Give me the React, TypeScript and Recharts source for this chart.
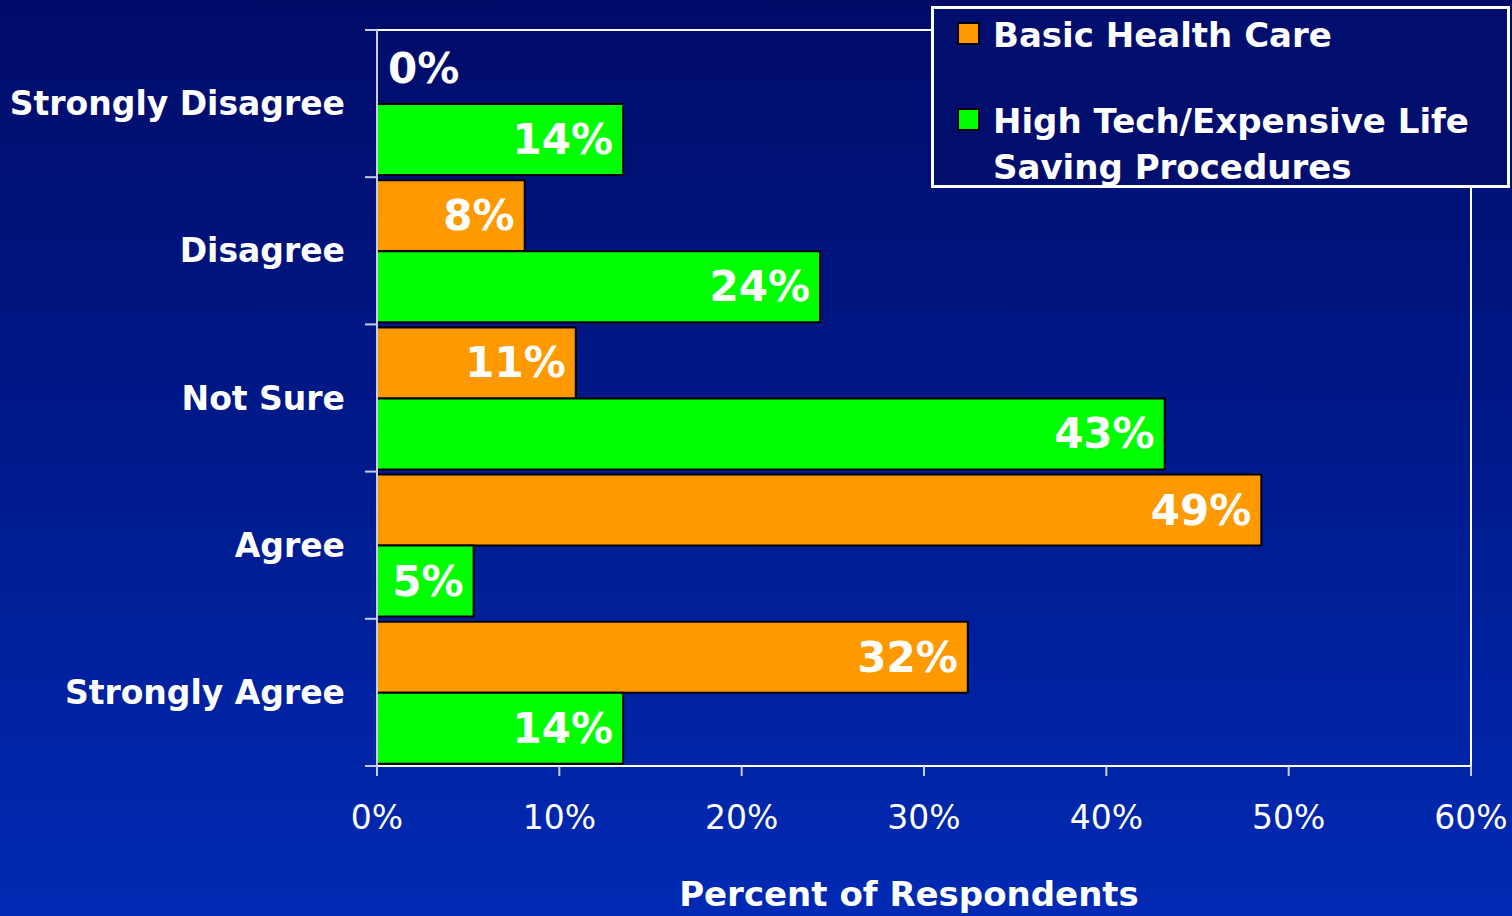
import React from 'react';
import {
  BarChart,
  Bar,
  Cell,
  XAxis,
  YAxis,
  Legend,
  LabelList,
  ReferenceArea,
} from 'recharts';

const categories = ['Strongly Disagree', 'Disagree', 'Not Sure', 'Agree', 'Strongly Agree'];
const basicCare = [0, 8.1, 10.9, 48.5, 32.4];
const highTech = [13.5, 24.3, 43.2, 5.3, 13.5];
const xTicks = [0, 10, 20, 30, 40, 50, 60];

const data = categories.map((c, i) => ({
  name: c,
  basic: basicCare[i],
  tech: highTech[i],
}));

const FONT = "Tahoma, Verdana, 'DejaVu Sans', sans-serif";
const W = 1512;
const H = 916;
const TOP = 30;
const BOTTOM_AXIS = 150;
const band = (H - TOP - BOTTOM_AXIS) / categories.length;

const BarLabel = (props: any) => {
  const { x, y, width, height, value } = props;
  const small = value === 0;
  return (
    <text
      x={small ? x + 11 : x + width - 10}
      y={y + height / 2}
      textAnchor={small ? 'start' : 'end'}
      dominantBaseline="central"
      fill="#fff"
      fontSize={42}
      fontWeight="bold"
      fontFamily={FONT}
    >
      {Math.round(value)}%
    </text>
  );
};

const CategoryTick = (props: any) => {
  const { x, y, payload, index } = props;
  return (
    <g>
      <line x1={x - 4} x2={x + 8} y1={y - band / 2} y2={y - band / 2} stroke="#c8cce0" strokeWidth={2} />
      {index === categories.length - 1 && (
        <line x1={x - 4} x2={x + 8} y1={y + band / 2} y2={y + band / 2} stroke="#c8cce0" strokeWidth={2} />
      )}
      <text
        x={x - 24}
        y={y}
        textAnchor="end"
        dominantBaseline="central"
        fill="#fff"
        fontSize={33}
        fontWeight="bold"
        fontFamily={FONT}
      >
        {payload.value}
      </text>
    </g>
  );
};

const LegendBox = (props: any) => {
  const { payload } = props;
  return (
    <div
      style={{
        boxSizing: 'border-box',
        width: 579,
        height: 182,
        border: '3px solid #fff',
        background: '#020e6e',
        padding: '3px 10px 0 23px',
        fontFamily: FONT,
        fontWeight: 'bold',
        fontSize: 34,
        color: '#fff',
        lineHeight: '46px',
      }}
    >
      {(payload || []).map((p: any, i: number) => (
        <div key={i} style={{ display: 'flex', alignItems: 'flex-start', marginBottom: i === 0 ? 40 : 0 }}>
          <span
            style={{
              display: 'inline-block',
              width: 19,
              height: 19,
              background: p.color,
              border: '2px solid #000',
              marginTop: 10,
              marginRight: 13,
              flex: 'none',
            }}
          />
          <span>{p.value}</span>
        </div>
      ))}
    </div>
  );
};

export default function App() {
  return (
    <div
      style={{
        position: 'absolute',
        left: 0,
        top: 0,
        width: W,
        height: H,
        overflow: 'hidden',
        background: 'linear-gradient(180deg, #000b68 0%, #001a8c 50%, #002ab4 100%)',
      }}
    >
      <BarChart
        width={W}
        height={H}
        data={data}
        layout="vertical"
        margin={{ top: TOP, right: 41, left: 0, bottom: 0 }}
        barCategoryGap={3}
        barGap={0}
      >
        <XAxis
          type="number"
          domain={[0, 60]}
          ticks={xTicks}
          tickFormatter={(v) => `${v}%`}
          height={BOTTOM_AXIS}
          axisLine={{ stroke: '#fff', strokeWidth: 2 }}
          tickLine={{ stroke: '#c8cce0', strokeWidth: 2 }}
          tickSize={10}
          tickMargin={30}
          tick={{ fill: '#fff', fontSize: 33, fontFamily: FONT }}
          label={{
            value: 'Percent of Respondents',
            position: 'insideBottom',
            offset: 10,
            dx: -15,
            fill: '#fff',
            fontSize: 34,
            fontWeight: 'bold',
            fontFamily: FONT,
          }}
        />
        <YAxis
          type="category"
          dataKey="name"
          width={377}
          axisLine={{ stroke: '#c8cce0', strokeWidth: 2 }}
          tickLine={false}
          tick={<CategoryTick />}
          interval={0}
        />
        <ReferenceArea x1={0} x2={60} fill="none" stroke="#fff" strokeWidth={2} ifOverflow="visible" />
        <Legend
          layout="vertical"
          align="center"
          verticalAlign="middle"
          content={<LegendBox />}
          wrapperStyle={{ position: 'absolute', left: 931, top: 6, width: 579, height: 182 }}
        />
        <Bar
          dataKey="basic"
          name="Basic Health Care"
          fill="#ff9900"
          stroke="#000"
          strokeWidth={2}
          minPointSize={1}
          isAnimationActive={false}
        >
          {basicCare.map((v, i) => (
            <Cell key={i} fill={v === 0 ? 'none' : '#ff9900'} stroke={v === 0 ? 'none' : '#000'} />
          ))}
          <LabelList dataKey="basic" content={<BarLabel />} />
        </Bar>
        <Bar
          dataKey="tech"
          name="High Tech/Expensive Life Saving Procedures"
          fill="#00ff00"
          stroke="#000"
          strokeWidth={2}
          isAnimationActive={false}
        >
          <LabelList dataKey="tech" content={<BarLabel />} />
        </Bar>
      </BarChart>
    </div>
  );
}
